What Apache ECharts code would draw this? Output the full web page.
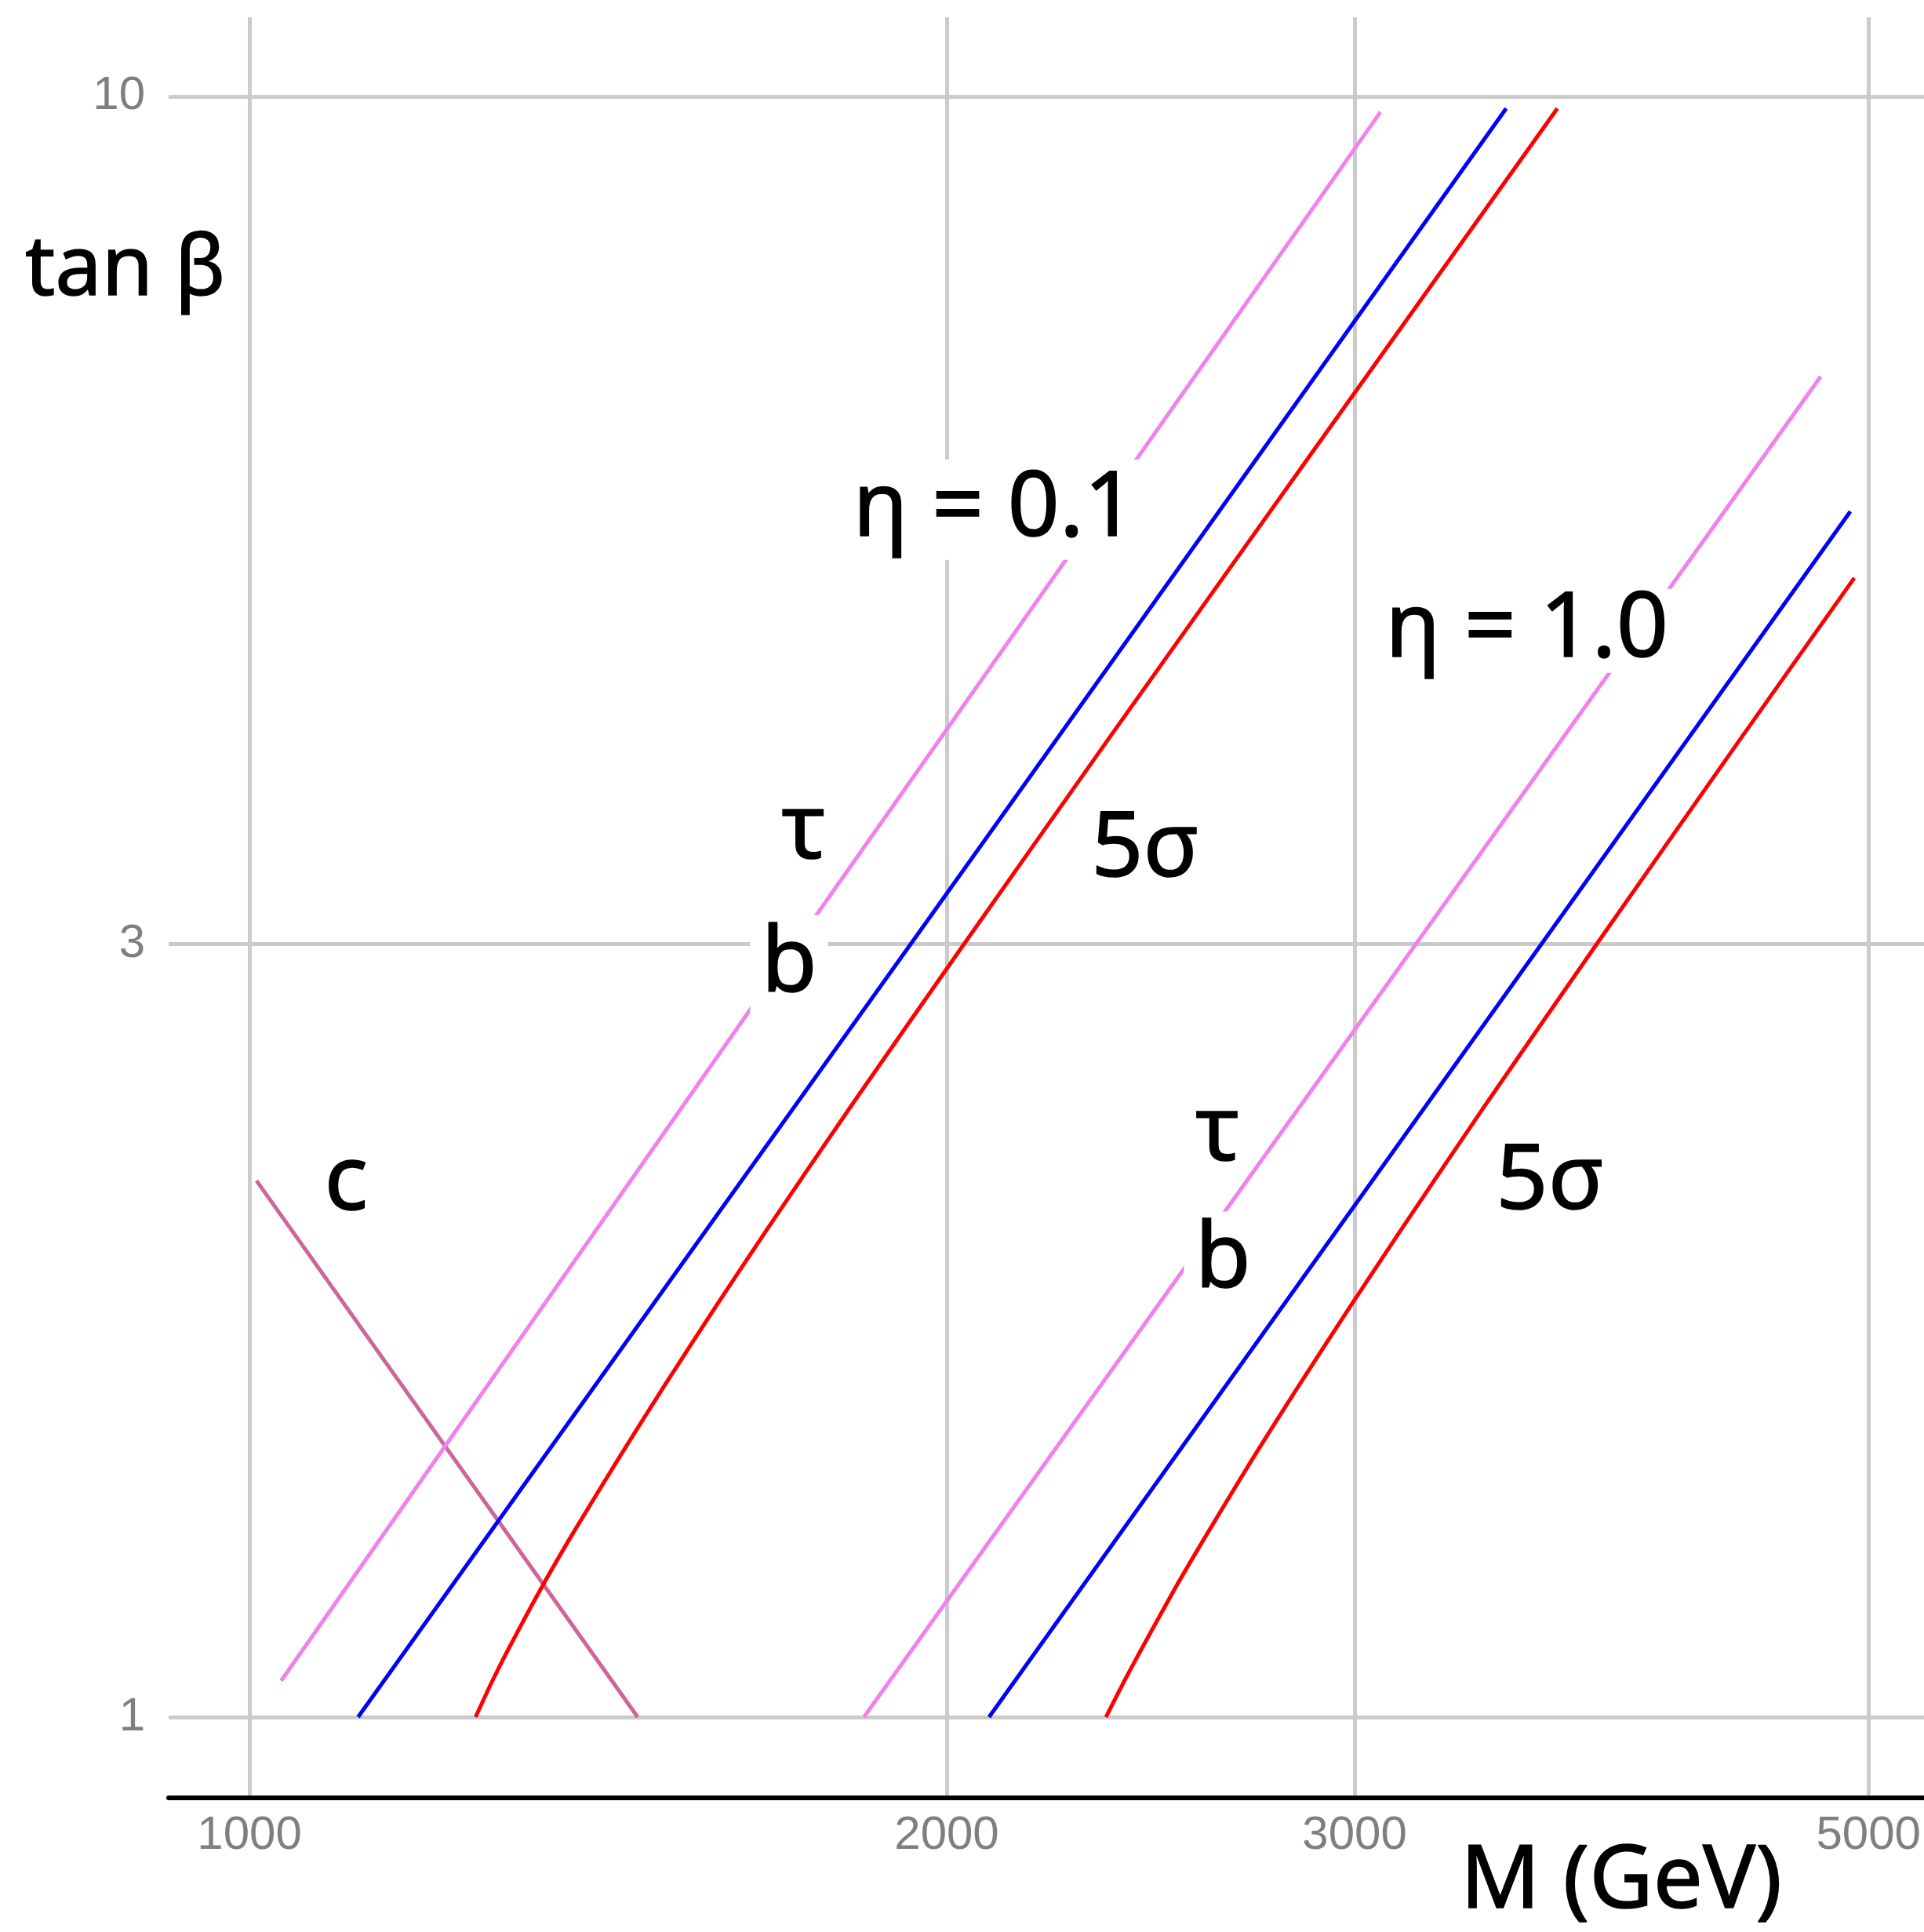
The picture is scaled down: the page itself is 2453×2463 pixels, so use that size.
<!DOCTYPE html>
<html><head><meta charset="utf-8">
<script src="https://cdn.jsdelivr.net/npm/echarts@6/dist/echarts.min.js"></script>
<style>html,body{margin:0;padding:0;background:#fff}#c{width:2453px;height:2463px}</style>
</head><body><div id="c"></div>
<script>
// ---- data (M in GeV, tan beta) ----
const xTicks = [1000, 2000, 3000, 5000];
const yTicks = [1, 3, 10];
// eta = 0.1
const tauEta01 = [[1032, 1.053], [1722, 3.0], [3078, 9.78]];
const bEta01 = [[1114, 1.0], [1930, 3.0], [3488, 9.83]];
const sigmaEta01 = [[1252, 1.0], [1272, 1.05], [1293, 1.1], [1336, 1.2], [1380, 1.3], [1446, 1.45], [1510, 1.6], [1593, 1.8], [1673, 2.0], [1825, 2.4], [2035, 3.0], [2345, 4.0], [2869, 6.0], [3670, 9.83]];
// eta = 1.0
const tauEta10 = [[1842, 1.0], [3189, 3.0], [4768, 6.717]];
const bEta10 = [[2086, 1.0], [3613, 3.0], [4911, 5.545]];
const sigmaEta10 = [[2343, 1.0], [2384, 1.05], [2426, 1.1], [2509, 1.2], [2593, 1.3], [2716, 1.45], [2837, 1.6], [2993, 1.8], [3143, 2.0], [3426, 2.4], [3817, 3.0], [4395, 4.0], [4930, 5.045]];
// c
const cLine = [[1007, 2.143], [1471, 1.0]];
// annotations: text, M, tan beta
const annotations = [
  ['η = 0.1', 2097, 5.559],
  ['η = 1.0', 3560, 4.680],
  ['τ', 1735, 3.516],
  ['b', 1710, 2.91],
  ['τ', 2618, 2.29],
  ['b', 2632, 1.91],
  ['5σ', 2436, 3.426],
  ['5σ', 3643, 2.136],
  ['c', 1101, 2.135]
];

const chart = echarts.init(document.getElementById('c'), null, {renderer: 'canvas'});
const lineS = (data, color) => ({
  type: 'line', data: data, showSymbol: false, symbol: 'none', silent: true, z: 2,
  lineStyle: {color: color, width: 5}, smooth: false
});
const gridLine = {show: true, lineStyle: {color: '#cbcbcb', width: 5}};
const labelItem = a => {
  const item = {name: a[0], value: [a[1], a[2]]};
  if (a[0] === 'τ') item.label = {backgroundColor: 'transparent'};
  else if (a[0] === 'η = 0.1') item.label = {padding: [16, 14, 0, 14], lineHeight: 112};
  else if (a[0] === 'η = 1.0') item.label = {padding: [4, 14, 0, 14], lineHeight: 103};
  return item;
};
chart.setOption({
  animation: false,
  grid: {left: 215, right: 0, top: 22, bottom: 171, containLabel: false},
  xAxis: {
    type: 'log', logBase: 10, min: 922.8, max: 5284,
    axisLine: {show: true, onZero: false, lineStyle: {color: '#000', width: 6}},
    axisTick: {show: false, customValues: xTicks},
    axisLabel: {customValues: xTicks, color: '#7f7f7f', fontSize: 60, fontFamily: 'Liberation Sans', margin: 18,
      formatter: v => String(Math.round(v))},
    splitLine: gridLine, minorSplitLine: {show: false}
  },
  yAxis: {
    type: 'log', logBase: 10, min: 0.8916, max: 11.19,
    axisLine: {show: false},
    axisTick: {show: false, customValues: yTicks},
    axisLabel: {customValues: yTicks, color: '#7f7f7f', fontSize: 60, fontFamily: 'Liberation Sans', margin: 30,
      formatter: v => String(Math.round(v))},
    splitLine: gridLine, minorSplitLine: {show: false}
  },
  series: [
    lineS(cLine, '#cc6699'),
    lineS(tauEta01, '#ee82ee'),
    lineS(bEta01, '#0000ff'),
    Object.assign(lineS(sigmaEta01, '#ff0000'), {smooth: 0.2}),
    lineS(tauEta10, '#ee82ee'),
    lineS(bEta10, '#0000ff'),
    Object.assign(lineS(sigmaEta10, '#ff0000'), {smooth: 0.2}),
    {
      type: 'scatter', z: 10, silent: true, symbolSize: 1,
      itemStyle: {color: 'rgba(0,0,0,0)'},
      data: annotations.map(labelItem),
      label: {show: true, position: 'inside', formatter: '{b}', color: '#000000', opacity: 1,
        textBorderColor: '#000000', textBorderWidth: 1.5,
        fontFamily: 'Noto Sans', fontSize: 116, lineHeight: 128,
        backgroundColor: '#ffffff', padding: [0, 14]},
      emphasis: {disabled: true}
    }
  ],
  graphic: [
    {type: 'text', x: 32, y: 346, silent: true,
      style: {text: 'tan β', fontSize: 106, fontFamily: 'Noto Sans', fill: '#000', stroke: '#000', lineWidth: 1.5, align: 'left', verticalAlign: 'middle'}},
    {type: 'text', x: 1862, y: 2400, silent: true,
      style: {text: 'M (GeV)', fontSize: 112, fontFamily: 'Noto Sans', fill: '#000', stroke: '#000', lineWidth: 1.5, align: 'left', verticalAlign: 'middle'}}
  ]
});
</script></body></html>
